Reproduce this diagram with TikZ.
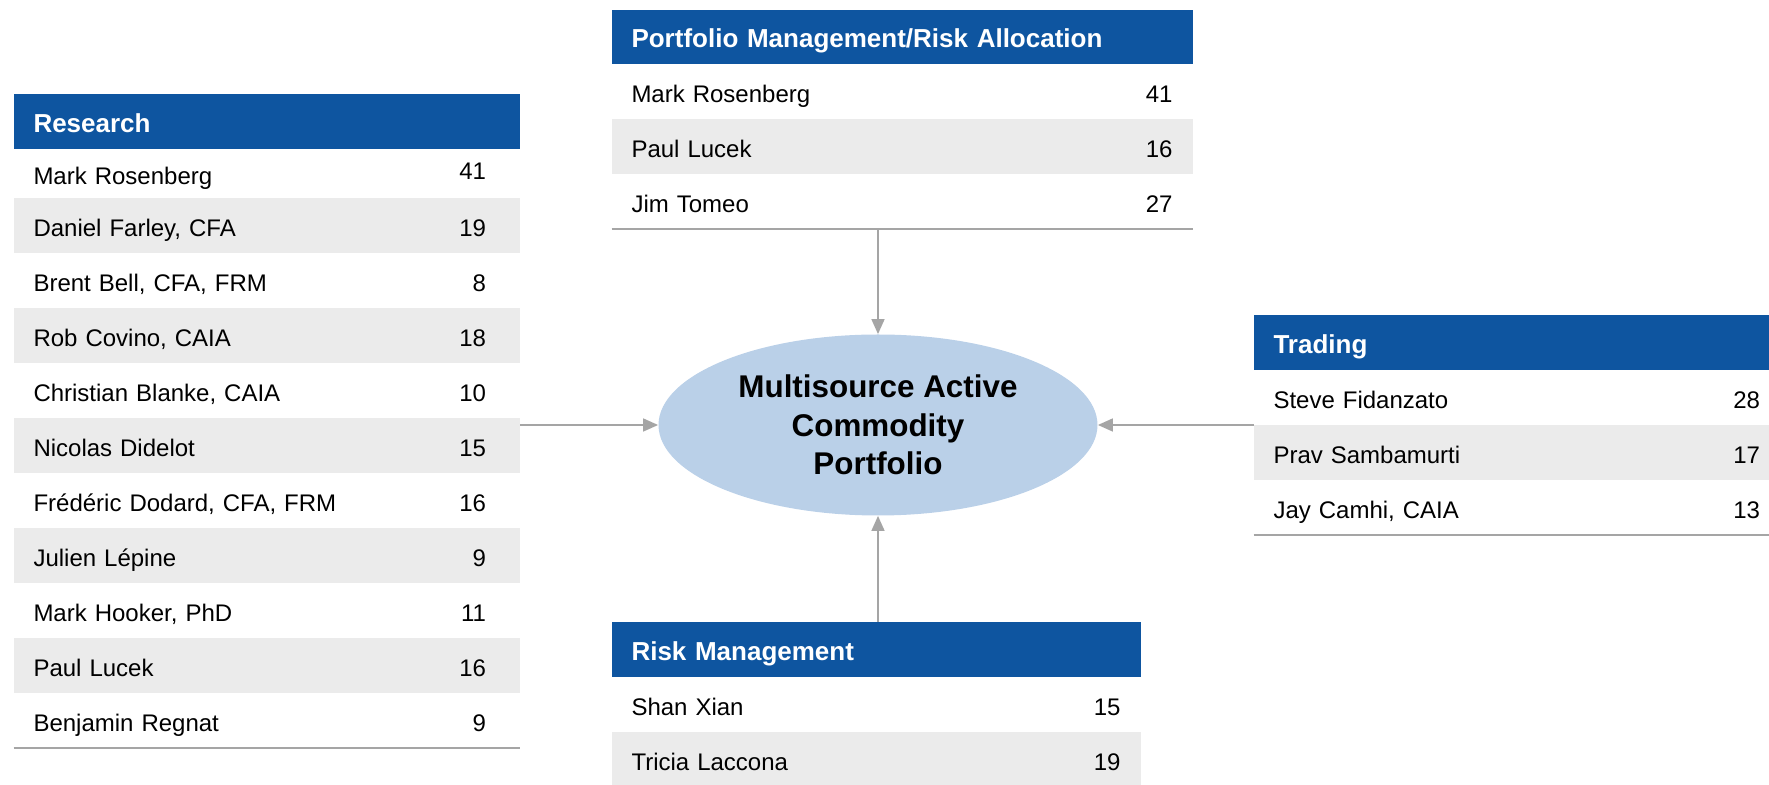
\documentclass[tikz,border=0pt]{standalone}
\usepackage{fontspec}
\setmainfont{Liberation Sans}
\usepackage{tikz}
\usetikzlibrary{arrows.meta, positioning, shapes.geometric}
\definecolor{headblue}{HTML}{0E55A0}
\definecolor{rowgray}{HTML}{EBEBEB}
\definecolor{coreblue}{HTML}{BAD0E8}
\definecolor{linegray}{HTML}{A5A5A5}
\newcommand{\teamheadfont}{\fontsize{13}{15}\selectfont\bfseries}
\newcommand{\teamrowfont}{\fontsize{12}{14}\selectfont}
\tikzset{
    teamhead/.style={
        rectangle, fill=headblue, text=white, font=\teamheadfont,
        text width=#1, align=left, inner xsep=10pt, inner ysep=0pt,
        minimum height=27.5pt, outer sep=0pt,
        text height=2ex, text depth=0ex
    },
    teamrow/.style={
        rectangle, fill=white, text=black, font=\teamrowfont,
        text width=#1, align=left, inner xsep=10pt, inner ysep=0pt,
        minimum height=27.5pt, outer sep=0pt,
        text height=2ex, text depth=0ex
    },
    shaded/.style={fill=rowgray},
    yrs/.style={
        font=\teamrowfont, inner sep=0pt, outer sep=0pt,
        text height=2ex, text depth=0ex
    },
    coreellipse/.style={
        ellipse, fill=coreblue, minimum width=219.5pt, minimum height=90.5pt,
        font=\fontsize{15.7}{19.25}\selectfont\bfseries, align=center, inner sep=0pt
    },
    feedarrow/.style={
        -{Triangle[length=7.5pt, width=6.5pt]}, line width=0.8pt, color=linegray
    },
    tableend/.style={line width=1pt, color=linegray},
}
\begin{document}
\begin{tikzpicture}[x=0.5pt, y=-0.5pt]
    \useasboundingbox (0,0) rectangle (1769,785);

    % Centre
    \node[coreellipse] (core) at (878,425) {Multisource Active\\Commodity\\Portfolio};

    % Research
    \node[teamhead=233.25pt, anchor=north west] (reshead) at (13.5,94) {Research};
    \node[teamrow=233.25pt, below=0pt of reshead, minimum height=24.5pt] (res1) {Mark Rosenberg};
    \node[teamrow=233.25pt, shaded, below=0pt of res1] (res2) {Daniel Farley, CFA};
    \node[teamrow=233.25pt, below=0pt of res2] (res3) {Brent Bell, CFA, FRM};
    \node[teamrow=233.25pt, shaded, below=0pt of res3] (res4) {Rob Covino, CAIA};
    \node[teamrow=233.25pt, below=0pt of res4] (res5) {Christian Blanke, CAIA};
    \node[teamrow=233.25pt, shaded, below=0pt of res5] (res6) {Nicolas Didelot};
    \node[teamrow=233.25pt, below=0pt of res6] (res7) {Frédéric Dodard, CFA, FRM};
    \node[teamrow=233.25pt, shaded, below=0pt of res7] (res8) {Julien Lépine};
    \node[teamrow=233.25pt, below=0pt of res8] (res9) {Mark Hooker, PhD};
    \node[teamrow=233.25pt, shaded, below=0pt of res9] (res10) {Paul Lucek};
    \node[teamrow=233.25pt, below=0pt of res10] (res11) {Benjamin Regnat};

    \node[yrs, left=17pt of res1.east, yshift=2.5pt] (res1n) {41};
    \node[yrs, left=17pt of res2.east] (res2n) {19};
    \node[yrs, left=17pt of res3.east] (res3n) {8};
    \node[yrs, left=17pt of res4.east] (res4n) {18};
    \node[yrs, left=17pt of res5.east] (res5n) {10};
    \node[yrs, left=17pt of res6.east] (res6n) {15};
    \node[yrs, left=17pt of res7.east] (res7n) {16};
    \node[yrs, left=17pt of res8.east] (res8n) {9};
    \node[yrs, left=17pt of res9.east] (res9n) {11};
    \node[yrs, left=17pt of res10.east] (res10n) {16};
    \node[yrs, left=17pt of res11.east] (res11n) {9};
    \draw[tableend] (res11.south west) -- (res11.south east);

    % Portfolio management / risk allocation
    \node[teamhead=270.5pt, anchor=north west, minimum height=27pt] (pmhead) at (611.5,10) {Portfolio Management/Risk Allocation};
    \node[teamrow=270.5pt, below=0pt of pmhead] (pm1) {Mark Rosenberg};
    \node[teamrow=270.5pt, shaded, below=0pt of pm1] (pm2) {Paul Lucek};
    \node[teamrow=270.5pt, below=0pt of pm2] (pm3) {Jim Tomeo};
    \node[yrs, left=10pt of pm1.east] (pm1n) {41};
    \node[yrs, left=10pt of pm2.east] (pm2n) {16};
    \node[yrs, left=10pt of pm3.east] (pm3n) {27};
    \draw[tableend] (pm3.south west) -- (pm3.south east);

    % Trading
    \node[teamhead=237.75pt, anchor=north west] (trdhead) at (1253.5,315) {Trading};
    \node[teamrow=237.75pt, below=0pt of trdhead] (trd1) {Steve Fidanzato};
    \node[teamrow=237.75pt, shaded, below=0pt of trd1] (trd2) {Prav Sambamurti};
    \node[teamrow=237.75pt, below=0pt of trd2] (trd3) {Jay Camhi, CAIA};
    \node[yrs, left=4.5pt of trd1.east] (trd1n) {28};
    \node[yrs, left=4.5pt of trd2.east] (trd2n) {17};
    \node[yrs, left=4.5pt of trd3.east] (trd3n) {13};
    \draw[tableend] (trd3.south west) -- (trd3.south east);

    % Risk management
    \node[teamhead=244.5pt, anchor=north west] (riskhead) at (611.5,622) {Risk Management};
    \node[teamrow=244.5pt, below=0pt of riskhead] (risk1) {Shan Xian};
    \node[teamrow=244.5pt, shaded, below=0pt of risk1] (risk2) {Tricia Laccona};
    \node[yrs, left=10pt of risk1.east] (risk1n) {15};
    \node[yrs, left=10pt of risk2.east] (risk2n) {19};

    % Arrows into the portfolio
    \draw[feedarrow] (pm3.south -| core.north) -- (core.north);
    \draw[feedarrow] (riskhead.north -| core.south) -- (core.south);
    \draw[feedarrow] (res6.east |- core.west) -- (core.west);
    \draw[feedarrow] (trdhead.west |- core.east) -- (core.east);

\end{tikzpicture}
\end{document}
